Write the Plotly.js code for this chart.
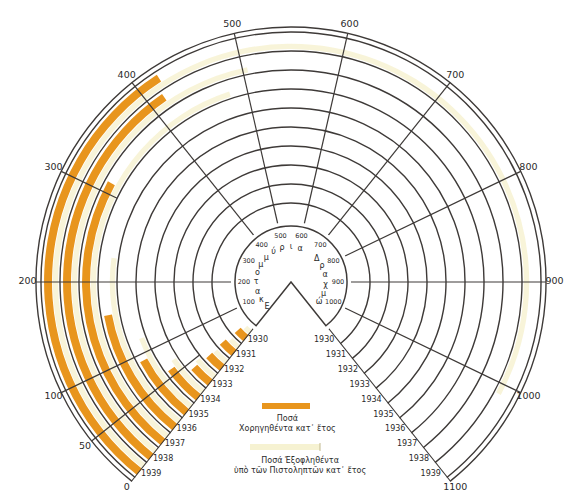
<!DOCTYPE html>
<html><head><meta charset="utf-8">
<script src="https://cdn.plot.ly/plotly-3.0.1.min.js"></script>
<style>html,body{margin:0;padding:0;background:#fff}#chart{width:564px;height:495px}</style>
</head><body><div id="chart"></div>
<script>
// ---------- data ----------
const years = ['1930','1931','1932','1933','1934','1935','1936','1937','1938','1939'];
const granted = [36, 39, 37, 39, 60, 91, 160, 312, 416, 422];     // orange bars
const repaid  = [25, 30, 35, 45, 70, 120, 230, 480, 505, 1010];   // pale bars
const tickValues = [0, 50, 100, 200, 300, 400, 500, 600, 700, 800, 900, 1000, 1100];
const tickLabels = ['0','50','100','200','300','400','500','600','700','800','900','1000','1100'];
const innerTickValues = [100, 200, 300, 400, 500, 600, 700, 800, 900, 1000];
const innerTickLabels = ['100','200','300','400','500','600','700','800','900','1000'];
const unitWord = 'Εκατομμύρια';
const currencyWord = 'Δραχμών';
const legendGranted = 'Ποσά<br>Χορηγηθέντα κατ᾽ ἔτος';
const legendRepaid = 'Ποσά Ἐξοφληθέντα<br>ὑπὸ τῶν Πιστοληπτῶν κατ᾽ ἔτος';

// ---------- geometry / style ----------
const FULL = 1400;                       // units for a full turn
const deg = v => v * 360 / FULL;
const W = 564, H = 495, CX = 291, CY = 282;
const R_OUT = 255, R_IN = 60, BAND = 19;
const RMAX = (R_OUT - R_IN) / BAND;      // outer edge of the chart (radial units)
const PAD = 0.9;                         // room for angular labels
const R_PLOT = R_OUT + PAD * BAND;
const ROT = 90 + deg(550);               // value 550 at top
const SECT = [ROT - deg(1100), ROT];
const lowFrac = Math.sin((deg(550) - 90) * Math.PI / 180);
function domainFor(rPx){
  return {x:[(CX - rPx)/W, (CX + rPx)/W],
          y:[Math.max(0,(H - (CY + rPx*lowFrac))/H), (H - (CY - rPx))/H]};
}
const spokes = [ // value, ring index where spoke starts
  {v:0, from:0, w:2}, {v:50, from:3, w:1.2}, {v:100, from:0, w:1.2}, {v:200, from:0, w:1.2},
  {v:300, from:7, w:1.2}, {v:400, from:0, w:1.2}, {v:500, from:0, w:1.2}, {v:600, from:0, w:1.2},
  {v:700, from:0, w:1.2}, {v:800, from:0, w:1.2}, {v:900, from:0, w:1.2}, {v:1000, from:0, w:1.2},
  {v:1100, from:0, w:2}
];
const LINE = '#3e3a38';
const FONT = 'DejaVu Sans';
const TXT = '#2a2a2a';

const traces = [];
// pale bars
traces.push({type:'barpolar', subplot:'polar',
  theta: repaid.map(v => deg(v/2)), width: repaid.map(v => deg(v)),
  base: years.map((_, i) => i + 0.1), r: years.map(() => 0.28),
  marker:{color:'rgba(246,241,208,0.8)', line:{width:0}}, hoverinfo:'skip'});
// orange bars
traces.push({type:'barpolar', subplot:'polar',
  theta: granted.map(v => deg(v/2)), width: granted.map(v => deg(v)),
  base: years.map((_, i) => i + 0.42), r: years.map(() => 0.42),
  marker:{color:'#e8951d', line:{width:0}}, hoverinfo:'skip'});
// spokes
spokes.forEach(s => traces.push({type:'scatterpolar', subplot:'polar', mode:'lines',
  r:[s.from, RMAX], theta:[deg(s.v), deg(s.v)], line:{color:LINE, width:s.w}, hoverinfo:'skip'}));
// angular tick labels
traces.push({type:'scatterpolar', subplot:'polar', mode:'text', cliponaxis:false,
  r: tickValues.map(() => RMAX + 0.45), theta: tickValues.map(deg), text: tickLabels,
  textfont:{family:FONT, size:9.5, color:TXT}, hoverinfo:'skip'});
// year labels along both edges
traces.push({type:'scatterpolar', subplot:'polar', mode:'text', cliponaxis:false,
  r: years.map((_, i) => i + 0.5), theta: years.map(() => deg(0)), text: years,
  textposition:'bottom right', textfont:{family:FONT, size:8, color:TXT}, hoverinfo:'skip'});
traces.push({type:'scatterpolar', subplot:'polar', mode:'text', cliponaxis:false,
  r: years.map((_, i) => i + 0.5), theta: years.map(() => deg(1100)), text: years,
  textposition:'bottom left', textfont:{family:FONT, size:8, color:TXT}, hoverinfo:'skip'});
// inner scale numbers
traces.push({type:'scatterpolar', subplot:'polar2', mode:'text', cliponaxis:false,
  r: innerTickValues.map(() => 0.84), theta: innerTickValues.map(deg), text: innerTickLabels,
  textfont:{family:FONT, size:6.5, color:TXT}, hoverinfo:'skip'});
// inner words
const w1 = Array.from(unitWord), w2 = Array.from(currencyWord);
traces.push({type:'scatterpolar', subplot:'polar2', mode:'text', cliponaxis:false,
  r: w1.map(() => 0.62), theta: w1.map((_, i) => deg(20 + i*59)), text: w1,
  textfont:{family:FONT, size:8, color:TXT}, hoverinfo:'skip'});
traces.push({type:'scatterpolar', subplot:'polar2', mode:'text', cliponaxis:false,
  r: w2.map(() => 0.62), theta: w2.map((_, i) => deg(735 + i*61)), text: w2,
  textfont:{family:FONT, size:8, color:TXT}, hoverinfo:'skip'});

const layout = {
  width:W, height:H, margin:{l:0,r:0,t:0,b:0}, showlegend:false,
  paper_bgcolor:'#fff', font:{family:FONT, color:TXT},
  polar:{
    domain: domainFor(R_PLOT), sector: SECT, hole: R_IN/R_PLOT, bgcolor:'rgba(0,0,0,0)',
    radialaxis:{range:[0, RMAX + PAD], tickvals:[0,1,2,3,4,5,6,7,8,9,10,RMAX], showticklabels:false,
      ticks:'', showline:false, gridcolor:LINE, gridwidth:1.4},
    angularaxis:{rotation:ROT, direction:'clockwise', thetaunit:'degrees', type:'linear',
      showticklabels:false, showgrid:false, showline:false, ticks:''}
  },
  polar2:{
    domain: domainFor(56), sector: SECT, hole:0, bgcolor:'rgba(0,0,0,0)',
    radialaxis:{visible:false, range:[0,1]},
    angularaxis:{rotation:ROT, direction:'clockwise', thetaunit:'degrees', type:'linear',
      showgrid:false, showticklabels:false, ticks:'', showline:true, linecolor:LINE, linewidth:1.5}
  },
  shapes:[
    {type:'rect', xref:'paper', yref:'paper', x0:262/W, x1:310/W, y0:(H-409)/H, y1:(H-403)/H,
      fillcolor:'#e8951d', line:{width:0}},
    {type:'rect', xref:'paper', yref:'paper', x0:250/W, x1:320/W, y0:(H-450)/H, y1:(H-444)/H,
      fillcolor:'rgba(246,241,208,0.95)', line:{width:0}},
    {type:'line', xref:'paper', yref:'paper', x0:320/W, x1:320/W, y0:(H-451)/H, y1:(H-443)/H,
      line:{color:'#c2b98f', width:1}}
  ],
  annotations:[
    {xref:'paper', yref:'paper', x:287/W, y:(H-423)/H, text:legendGranted, showarrow:false,
      font:{family:FONT, size:8, color:TXT}, xanchor:'center', yanchor:'middle'},
    {xref:'paper', yref:'paper', x:300/W, y:(H-465)/H, text:legendRepaid, showarrow:false,
      font:{family:FONT, size:8, color:TXT}, xanchor:'center', yanchor:'middle'}
  ]
};
Plotly.newPlot('chart', traces, layout, {staticPlot:true});
</script></body></html>
